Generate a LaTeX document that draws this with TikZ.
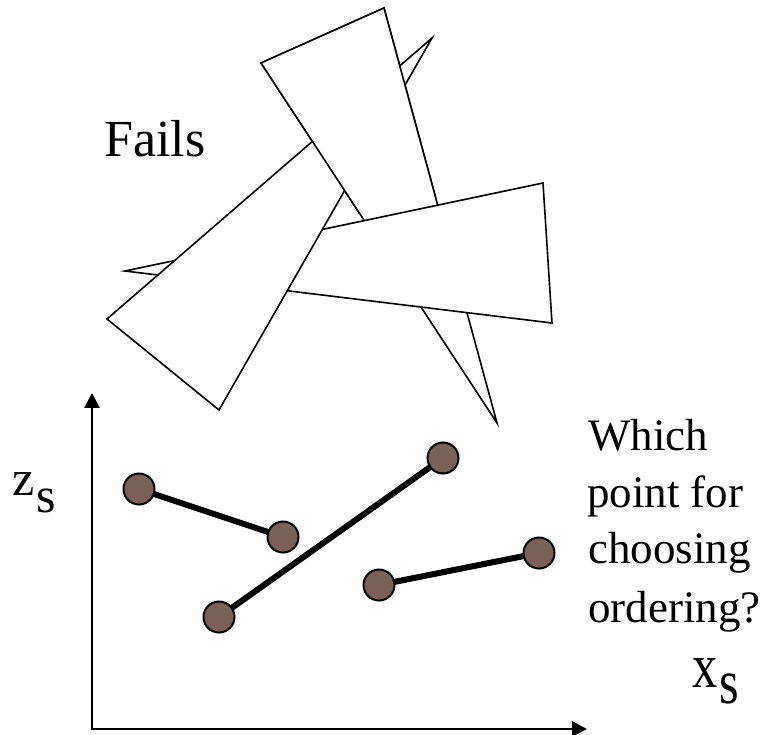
\documentclass[tikz,border=0pt]{standalone}
\usepackage{fontspec}
\setmainfont{Liberation Serif}
\usetikzlibrary{arrows.meta}
\pgfdeclarelayer{background}
\pgfsetlayers{background,main}
\definecolor{dotbrown}{RGB}{122,98,88}
\begin{document}
\begin{tikzpicture}[x=1pt,y=-1pt,
  tri/.style={draw=black,fill=white,line width=1.6pt,line join=miter},
  dot/.style={circle,draw=black,line width=2pt,fill=dotbrown,minimum size=31pt,inner sep=0pt},
  seg/.style={draw=black,line width=6pt},
  axis/.style={draw=black,line width=2.8pt,line join=miter,{Triangle[length=15pt,width=15pt]}-{Triangle[length=15pt,width=15pt]}},
  txt/.style={font=\fontsize{45}{54}\selectfont,anchor=base west,inner sep=0pt},
  lbl/.style={txt}]
\useasboundingbox (0,0) rectangle (777,735);

% cyclically overlapping triangles
\path[tri] (261,63) -- (384,8) -- (497,423) -- cycle;      % A
\path[tri] (543,183) -- (552,323) -- (125,271) -- cycle;   % C (over A)
\path[tri] (107,319) -- (219,410) -- (432,38) -- cycle;    % B (over C)
\begin{scope}
  \clip (0,0) -- (777,0) -- (777,125.7) -- (0,289.3) -- cycle;
  \path[tri] (261,63) -- (384,8) -- (497,423) -- cycle;    % A over B
\end{scope}

\node[txt] (fails) at (104,157) {\scalebox{1.156}{Fails}};

% axes
\coordinate (ztip) at (92,393);
\coordinate (O) at (92,729);
\coordinate (xtip) at (587,729);
\draw[axis] (ztip) -- (O) -- (xtip);

\node[txt] (zs) at (12,495) {\scalebox{1.111}{z\kern2pt\raisebox{-16pt}{s}}};
\node[txt] (xs) at (692,687) {\scalebox{1.12}[1.4]{x\kern2pt\raisebox{-11.5pt}{s}}};

% segments with end points
\node[dot] (p1) at (139,489) {};
\node[dot] (p2) at (283,537) {};
\node[dot] (p3) at (219,617) {};
\node[dot] (p4) at (443,458) {};
\node[dot] (p5) at (379,585) {};
\node[dot] (p6) at (539,553) {};
\begin{pgfonlayer}{background}
  \draw[seg] (p1.center) -- (p2.center);
  \draw[seg] (p3.center) -- (p4.center);
  \draw[seg] (p5.center) -- (p6.center);
\end{pgfonlayer}

\node[lbl] (l1) at (588,450) {Which};
\node[lbl] (l2) at (587,507) {point for};
\node[lbl] (l3) at (588,563) {choosing};
\node[lbl] (l4) at (588,622) {ordering?};
\end{tikzpicture}
\end{document}
